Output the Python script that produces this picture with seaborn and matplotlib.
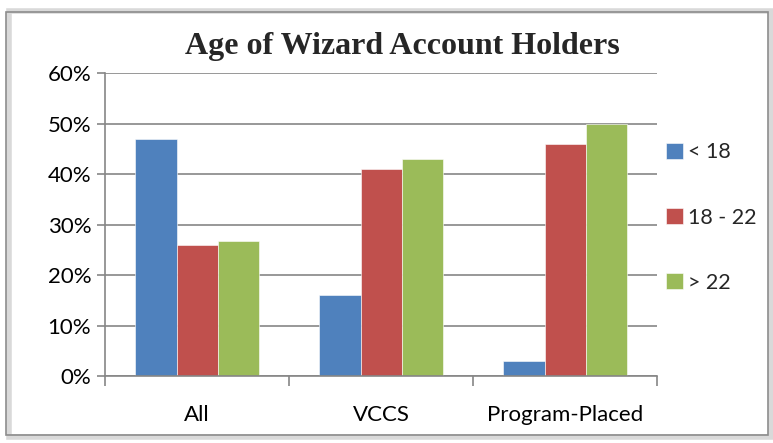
#!/usr/bin/env python3
"""Age of Wizard account holders, grouped bars."""
import matplotlib
matplotlib.use("Agg")
import matplotlib.pyplot as plt
from matplotlib.patches import Rectangle
from matplotlib.ticker import FixedLocator, PercentFormatter
import pandas as pd
import seaborn as sns

groups = ["All", "VCCS", "Program-Placed"]
age_bands = ["< 18", "18 - 22", "> 22"]
under_18 = [47.0, 16.0, 3.0]
age_18_22 = [26.0, 41.0, 46.0]
over_22 = [26.7, 43.0, 50.0]
colors = ["#4F81BD", "#C0504D", "#9BBB59"]

df = pd.DataFrame({
    "group": groups * 3,
    "band": [b for b in age_bands for _ in groups],
    "pct": under_18 + age_18_22 + over_22,
})

sns.set_theme(style="white")
plt.rcParams["font.family"] = ["Lato", "DejaVu Sans"]
grid_col = "#868686"

fig = plt.figure(figsize=(7.73, 4.43), dpi=100)
ax = fig.add_axes([0.136, 0.151, 0.714, 0.684])

sns.barplot(data=df, x="group", y="pct", hue="band", order=groups, hue_order=age_bands,
            palette=colors, width=0.67, gap=0, saturation=1, ax=ax,
            edgecolor="white", linewidth=0.4)

ax.set_ylim(0, 60)
ax.set_xlim(-0.5, 2.5)
ax.set_yticks(range(0, 61, 10))
ax.yaxis.set_major_formatter(PercentFormatter(decimals=0))
ax.yaxis.grid(True, color=grid_col, linewidth=1.2)
ax.set_axisbelow(True)
ax.set_xlabel("")
ax.set_ylabel("")

for side in ["top", "right"]:
    ax.spines[side].set_visible(False)
for side in ["left", "bottom"]:
    ax.spines[side].set_color(grid_col)
    ax.spines[side].set_linewidth(1.2)

ax.tick_params(axis="y", left=True, length=6, width=1.2, color=grid_col,
               labelsize=16, pad=4, labelcolor="black")
ax.tick_params(axis="x", which="major", bottom=False, labelsize=16, pad=15, labelcolor="black")
ax.xaxis.set_minor_locator(FixedLocator([-0.5, 0.5, 1.5, 2.5]))
ax.tick_params(axis="x", which="minor", bottom=True, length=7, width=1.2, color=grid_col)

ax.legend(loc="upper left", bbox_to_anchor=(0.982, 0.835), frameon=False, fontsize=15.5,
          handlelength=0.75, handleheight=0.75, handletextpad=0.25, labelspacing=2.1)

fig.text(0.52, 0.895, "Age of Wizard Account Holders", ha="center", va="center",
         fontsize=23, fontweight="bold", family=["Liberation Serif", "DejaVu Serif"])

# chart frame with a soft shadow
fig.patches.append(Rectangle((0.012, 0.013), 0.986, 0.962, transform=fig.transFigure,
                             facecolor="none", edgecolor="#d9d9d9", linewidth=4, zorder=0))
fig.patches.append(Rectangle((0.008, 0.018), 0.985, 0.955, transform=fig.transFigure,
                             facecolor="none", edgecolor="#8c8c8c", linewidth=1.2, zorder=1))

fig.savefig("out.png", dpi=100)
